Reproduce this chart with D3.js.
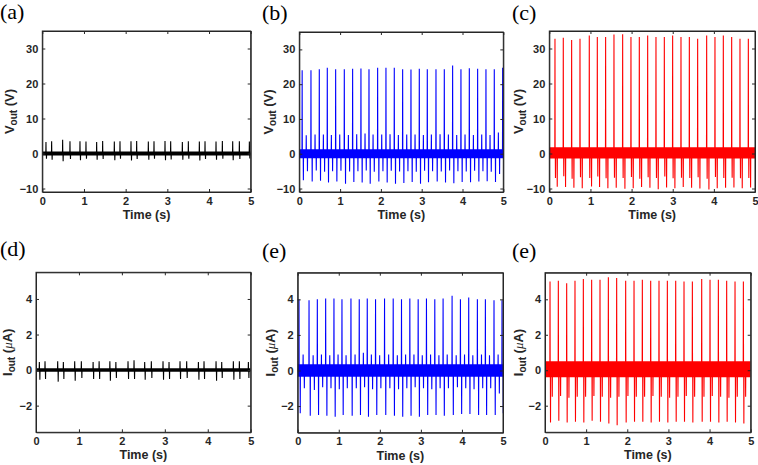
<!DOCTYPE html>
<html>
<head>
<meta charset="utf-8">
<script src="https://cdn.jsdelivr.net/npm/d3@7"></script>
<style>
  html, body { margin: 0; padding: 0; background: #fff; }
  svg { display: block; }
  .tick text { font-family: Arial, "Liberation Sans", sans-serif; font-weight: bold; font-size: 11px; fill: #262626; }
</style>
</head>
<body>
<svg id="chart" width="758" height="465"></svg>
<script>
// ---------- data ----------
const timeTicks = [0, 1, 2, 3, 4, 5];
const voltTicks = [-10, 0, 10, 20, 30];
const currTicks = [-2, 0, 2, 4];
const voltRange = [-11, 35];
const currRange = [-3.5, 5.5];
const timeRange = [0, 5];

// (a) black, voltage
const aTimes = [0.088,0.224,0.488,0.664,0.904,1.048,1.304,1.448,1.728,1.864,2.128,2.264,2.544,2.680,2.944,3.080,3.360,3.504,3.768,3.904,4.168,4.320,4.568,4.728,4.968];
const aPeaks = [3.3,3.5,3.9,3.5,3.5,3.4,3.3,3.6,3.4,3.5,3.5,3.6,3.4,3.5,3.6,3.5,3.3,3.5,3.4,3.5,3.4,3.6,3.5,3.5,3.4];
const aDips  = [-1.5,-1.8,-2.2,-1.6,-1.9,-1.5,-1.8,-1.6,-1.9,-1.5,-2.0,-1.6,-1.8,-1.5,-1.9,-1.7,-1.8,-1.5,-2.0,-1.6,-1.8,-1.5,-1.9,-1.6,-1.4];
const aBand  = [-0.6, 0.6];

// (b) blue, voltage
const bTimes = [0.070,0.286,0.490,0.686,0.891,1.103,1.307,1.511,1.708,1.920,2.124,2.328,2.533,2.737,2.941,3.137,3.350,3.554,3.758,3.962,4.167,4.371,4.575,4.779,4.984];
const bPeaks = [24.0,24.0,24.3,24.7,24.3,24.3,24.4,24.5,24.3,24.7,24.7,24.7,24.3,24.2,24.4,24.3,24.3,24.3,25.4,24.3,24.6,24.4,24.3,24.3,24.7];
const bDips  = [-7.6,-8.0,-7.8,-8.3,-8.0,-8.6,-8.1,-8.3,-8.6,-8.0,-8.3,-8.6,-8.4,-8.1,-8.6,-8.2,-8.0,-8.3,-8.5,-8.1,-8.2,-8.0,-7.9,-8.1,-7.8];
const bSecPeaks = [5.3,5.5,5.5,5.4,5.5,5.4,5.6,5.8,5.5,5.5,5.6,5.4,5.5,5.5,5.4,5.5,5.6,5.5,5.4,5.5,5.4,5.5,5.4,6.1];
const bSecDips  = [-5.0,-4.8,-5.2,-5.0,-4.9,-5.1,-5.0,-4.8,-5.2,-5.0,-4.9,-5.1,-5.0,-5.2,-4.9,-5.0,-5.1,-4.8,-5.0,-5.1,-4.9,-5.0,-5.2,-5.8];
const bBand  = [-1.3, 1.3];

// (c) red, voltage
const cTimes = [0.138,0.340,0.543,0.746,0.972,1.167,1.369,1.572,1.783,1.985,2.188,2.391,2.593,2.796,2.998,3.201,3.404,3.606,3.825,4.027,4.230,4.433,4.635,4.838];
const cPeaks = [32.8,33.1,32.4,32.8,33.7,33.3,33.3,34.0,34.1,33.3,33.3,33.7,33.3,33.3,33.7,33.3,33.3,32.8,33.7,33.3,33.7,33.3,32.8,32.8];
const cDipsLight = [-7.0,-6.5,-7.2,-6.8,-7.0,-6.6,-7.1,-6.9,-7.0,-6.7,-7.2,-6.8,-7.0,-6.6,-7.1,-6.9,-7.0,-6.8,-7.2,-6.7,-7.0,-6.9,-7.1,-7.0];
const cDipsDeep  = [-9.5,-9.6,-9.8,-9.9,-9.4,-9.6,-9.9,-9.8,-10.1,-9.9,-9.6,-9.8,-10.2,-9.7,-9.9,-9.6,-9.8,-10.0,-10.3,-9.9,-9.8,-9.7,-9.9,-9.7];
const cBand  = [-1.4, 1.8];

// (d) black, current
const dTimes = [0.078,0.210,0.505,0.637,0.901,1.056,1.330,1.470,1.720,1.860,2.143,2.283,2.531,2.686,2.958,3.098,3.354,3.509,3.782,3.913,4.193,4.325,4.596,4.736,4.946];
const dPeaks = [0.45,0.5,0.5,0.45,0.5,0.5,0.45,0.5,0.5,0.45,0.5,0.55,0.45,0.5,0.5,0.45,0.5,0.5,0.45,0.5,0.5,0.45,0.5,0.5,0.45];
const dDips  = [-0.55,-0.5,-0.65,-0.5,-0.6,-0.45,-0.5,-0.5,-0.6,-0.45,-0.5,-0.5,-0.55,-0.45,-0.55,-0.5,-0.5,-0.45,-0.55,-0.5,-0.6,-0.45,-0.55,-0.5,-0.45];
const dBand  = [-0.1, 0.1];

// (e) blue, current
const eTimes = [0.032,0.276,0.478,0.681,0.883,1.078,1.297,1.499,1.694,1.896,2.115,2.326,2.528,2.731,2.934,3.136,3.339,3.541,3.760,3.963,4.165,4.376,4.571,4.781,4.976];
const ePeaks = [4.0,3.95,4.0,4.05,4.05,4.0,4.05,4.0,4.05,4.0,4.05,4.05,4.0,4.05,4.0,4.05,4.0,4.05,4.2,4.0,4.1,4.0,4.0,3.95,3.95];
const eDips  = [-2.4,-2.55,-2.5,-2.55,-2.6,-2.5,-2.55,-2.5,-2.6,-2.5,-2.5,-2.55,-2.6,-2.55,-2.6,-2.5,-2.5,-2.55,-2.5,-2.45,-2.45,-2.5,-2.5,-2.5,-2.4];
const eSecPeaks = [0.9,0.85,0.9,0.85,0.9,0.85,0.9,1.0,0.9,0.85,0.9,0.85,0.9,0.9,0.85,0.9,0.85,0.9,0.85,0.9,0.85,0.9,0.85,0.9];
const eSecDips  = [-1.0,-1.1,-0.95,-1.0,-1.05,-1.0,-1.0,-0.95,-1.05,-1.0,-1.0,-1.05,-1.0,-0.95,-1.0,-1.05,-1.0,-1.0,-0.95,-1.0,-1.05,-1.0,-1.0,-1.3];
const eBand  = [-0.35, 0.35];

// (f) red, current
const fTimes = [0.122,0.324,0.527,0.729,0.932,1.134,1.337,1.540,1.742,1.961,2.164,2.366,2.569,2.771,2.974,3.177,3.379,3.582,3.809,4.011,4.214,4.416,4.619,4.822];
const fPeaks = [5.0,5.05,4.9,5.05,5.15,5.1,5.1,5.24,5.2,5.05,5.05,5.1,5.05,5.05,5.05,5.05,5.0,5.0,5.15,5.1,5.1,5.05,5.0,5.0];
const fDipsDeep  = [-2.95,-2.85,-2.95,-2.9,-2.95,-2.85,-2.9,-3.0,-3.1,-2.95,-2.9,-2.9,-2.95,-2.9,-2.95,-2.9,-2.9,-2.95,-2.9,-2.9,-2.95,-2.9,-2.95,-3.0];
const fDipsLight = [-1.5,-1.45,-1.55,-1.5,-1.5,-1.45,-1.5,-1.55,-1.5,-1.45,-1.5,-1.5,-1.45,-1.5,-1.55,-1.5,-1.45,-1.5,-1.5,-1.45,-1.5,-1.55,-1.5,-1.5];
const fBand  = [-0.4, 0.5];

// ---------- panel setup ----------
const panels = [
  { tag: "(a)", kind: "V", color: "#000000", box: [42.3, 250.7, 31, 192],   tagPos: [0, 19],   ylabX: 10,
    band: aBand, events: [[aTimes, aPeaks, 0], [aTimes, aDips, 0.012]] },
  { tag: "(b)", kind: "V", color: "#0000ff", box: [299.3, 503.3, 32, 192],  tagPos: [262, 20], ylabX: 269,
    band: bBand, events: [[bTimes, bPeaks, 0], [bTimes, bDips, 0.03], [bTimes.slice(0, 24), bSecPeaks, 0.10], [bTimes.slice(0, 24), bSecDips, 0.13]] },
  { tag: "(c)", kind: "V", color: "#ff0000", box: [549.3, 755, 31, 192],    tagPos: [512, 20], ylabX: 519,
    band: cBand, events: [[cTimes, cPeaks, 0], [cTimes, cDipsLight, 0.012], [cTimes, cDipsDeep, 0.055]] },
  { tag: "(d)", kind: "I", color: "#000000", box: [36, 250.7, 272.3, 432.3], tagPos: [0, 256], ylabX: 8,
    band: dBand, events: [[dTimes, dPeaks, 0], [dTimes, dDips, 0.012]] },
  { tag: "(e)", kind: "I", color: "#0000ff", box: [297.7, 503, 272.7, 432.7], tagPos: [262, 258], ylabX: 271,
    band: eBand, events: [[eTimes, ePeaks, 0], [eTimes, eDips, 0.03], [eTimes.slice(0, 24), eSecPeaks, 0.10], [eTimes.slice(0, 24), eSecDips, 0.13]] },
  { tag: "(e)", kind: "I", color: "#ff0000", box: [545, 750.7, 272.7, 432.3], tagPos: [512, 258], ylabX: 519,
    band: fBand, events: [[fTimes, fPeaks, 0], [fTimes, fDipsDeep, 0.012], [fTimes, fDipsLight, 0.055]] }
];

const svg = d3.select("#chart");
const axisColor = "#262626";
const sans = "Arial, 'Liberation Sans', sans-serif";

panels.forEach((p, i) => {
  const [x0, x1, y0, y1] = p.box;
  const x = d3.scaleLinear().domain(timeRange).range([x0, x1]);
  const y = d3.scaleLinear().domain(p.kind === "V" ? voltRange : currRange).range([y1, y0]);
  const yTicks = p.kind === "V" ? voltTicks : currTicks;
  const g = svg.append("g");

  const clipId = "clip" + i;
  svg.append("clipPath").attr("id", clipId)
    .append("rect").attr("x", x0).attr("y", y0).attr("width", x1 - x0).attr("height", y1 - y0);

  const plot = g.append("g").attr("clip-path", `url(#${clipId})`);

  // noise band
  const area = d3.area().x(d => x(d)).y0(y(p.band[0])).y1(y(p.band[1]));
  plot.append("path").datum(timeRange).attr("d", area).attr("fill", p.color);

  // spikes: build point list
  const pts = [];
  p.events.forEach(([ts, vs, lag]) => {
    ts.forEach((t, k) => {
      if (k >= vs.length) return;
      const tc = t + lag;
      pts.push([tc - 0.004, 0], [tc, vs[k]], [tc + 0.004, 0]);
    });
  });
  pts.sort((a, b) => a[0] - b[0]);
  const line = d3.line().x(d => x(d[0])).y(d => y(d[1]));
  plot.append("path").datum([[0, 0], ...pts, [5, 0]]).attr("d", line)
    .attr("fill", "none").attr("stroke", p.color).attr("stroke-width", 1.1).attr("stroke-linejoin", "miter");

  // axes (box with inward ticks)
  const tl = 3;
  const ax = (axis, tr) => {
    const a = g.append("g").attr("transform", tr).call(axis);
    a.select(".domain").attr("stroke", axisColor);
    a.selectAll(".tick line").attr("stroke", axisColor);
    return a;
  };
  ax(d3.axisBottom(x).tickValues(timeTicks).tickFormat(d3.format("d")).tickSizeInner(-tl).tickSizeOuter(0).tickPadding(5), `translate(0,${y1})`);
  ax(d3.axisTop(x).tickValues(timeTicks).tickFormat("").tickSizeInner(-tl).tickSizeOuter(0), `translate(0,${y0})`);
  ax(d3.axisLeft(y).tickValues(yTicks).tickFormat(d3.format("d")).tickSizeInner(-tl).tickSizeOuter(0).tickPadding(4), `translate(${x0},0)`);
  ax(d3.axisRight(y).tickValues(yTicks).tickFormat("").tickSizeInner(-tl).tickSizeOuter(0), `translate(${x1},0)`);
  g.append("rect").attr("x", x0).attr("y", y0).attr("width", x1 - x0).attr("height", y1 - y0)
    .attr("fill", "none").attr("stroke", axisColor).attr("stroke-width", 1);

  // x label
  g.append("text").attr("x", (x0 + x1) / 2).attr("y", y1 + 27)
    .attr("text-anchor", "middle").attr("font-family", sans).attr("font-weight", "bold")
    .attr("font-size", 12.5).attr("fill", axisColor).text("Time (s)");

  // y label
  const yl = g.append("text")
    .attr("transform", `translate(${p.ylabX + 4},${(y0 + y1) / 2}) rotate(-90)`)
    .attr("text-anchor", "middle").attr("font-family", sans).attr("font-weight", "bold")
    .attr("font-size", 13).attr("fill", axisColor);
  if (p.kind === "V") {
    yl.append("tspan").text("V");
    yl.append("tspan").attr("font-size", 10).attr("dy", 3).text("out");
    yl.append("tspan").attr("dy", -3).text(" (V)");
  } else {
    yl.append("tspan").text("I");
    yl.append("tspan").attr("font-size", 10).attr("dy", 3).text("out");
    yl.append("tspan").attr("dy", -3).text(" (");
    yl.append("tspan").attr("font-family", "'Liberation Serif', 'Times New Roman', serif").attr("font-style", "italic").attr("font-weight", "normal").text("\u03BC");
    yl.append("tspan").text("A)");
  }

  // panel tag
  svg.append("text").attr("x", p.tagPos[0]).attr("y", p.tagPos[1])
    .attr("font-family", "'Liberation Serif', 'Times New Roman', serif").attr("font-size", 22)
    .attr("fill", "#000").text(p.tag);
});
</script>
</body>
</html>
